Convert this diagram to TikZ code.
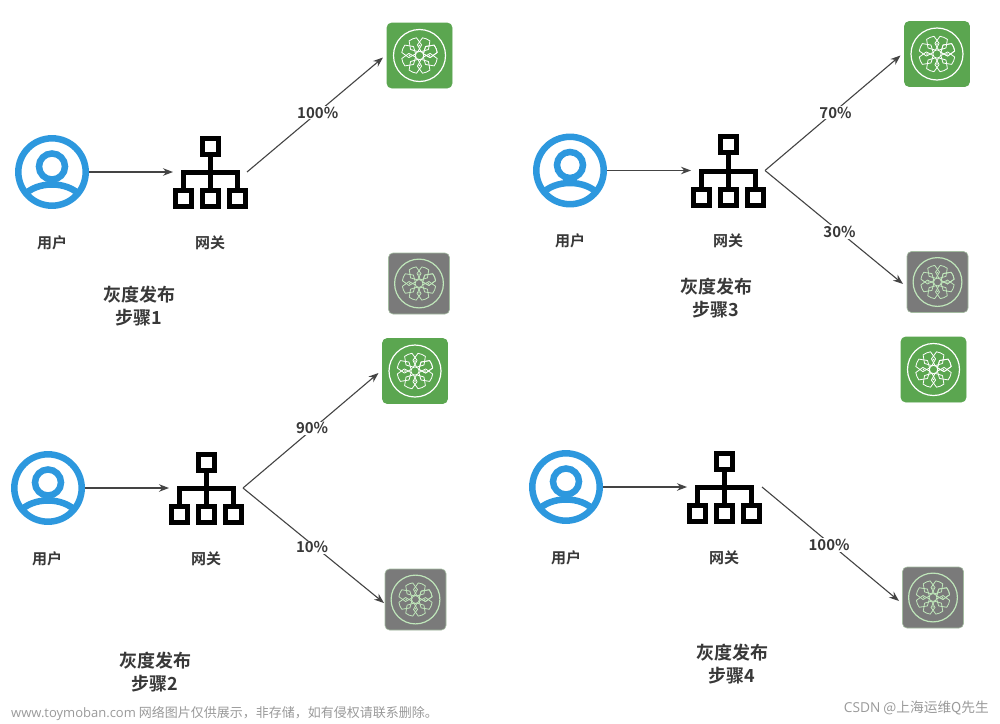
\documentclass[tikz,border=0pt]{standalone}
\usepackage{fontspec}
\setmainfont{Noto Sans CJK SC}[BoldFont={Noto Sans CJK SC Bold}]
\newfontfamily\latinfont{Open Sans}
\usetikzlibrary{arrows.meta}
\definecolor{userblue}{HTML}{2D98DE}
\definecolor{appgreen}{HTML}{5BA650}
\definecolor{appgray}{HTML}{7A7A7A}
\definecolor{graylineC}{HTML}{BFE6BA}
\definecolor{linkC}{HTML}{444444}
\definecolor{txtC}{HTML}{383838}
\definecolor{markC}{HTML}{9A9A9A}
\tikzset{
  link/.style={draw=linkC,line width=1.1pt,-{Stealth[length=10pt,width=7.5pt]}},
  pct/.style={fill=white,inner sep=1pt,text=txtC,font=\bfseries\fontsize{15}{15}\selectfont},
  caplabel/.style={text=txtC,font=\bfseries\fontsize{15}{15}\selectfont},
  heading/.style={text=txtC,align=center,font=\bfseries\fontsize{18}{23}\selectfont},
  marktext/.style={text=markC,font=\fontsize{13}{13}\selectfont,inner sep=0pt},
  holder/.style={inner sep=0pt,outer sep=0pt},
  gbox/.style={draw=black,line width=5pt,fill=white},
  greenapp/.style={fill=appgreen,draw=appgreen},
  grayapp/.style={fill=appgray,draw=graylineC!60!appgray},
}
% user icon
\newcommand{\usericon}[3]{%
  \node[holder,circle,minimum size=74pt] (#1) at (#2,#3) {};
  \begin{scope}[shift={(#2,#3)}]
    \draw[userblue,line width=6.5pt] (0,0) circle (33.7);
    \draw[userblue,line width=6.5pt] (0,-5.5) circle (13);
    \begin{scope}
      \clip (0,0) circle (33.7);
      \draw[userblue,line width=6.5pt] (-30,25) .. controls (-22,16) and (-11,12.5) .. (0,12.5) .. controls (11,12.5) and (22,16) .. (30,25);
    \end{scope}
  \end{scope}}
% gateway icon
\newcommand{\gateicon}[3]{%
  \node[holder,minimum width=74pt,minimum height=74pt] (#1) at (#2,#3) {};
  \begin{scope}[shift={(#2,#3)}]
    \draw[black,line width=5pt] (0,-26) -- (0,27) (-26.5,27) -- (-26.5,.5) -- (27,.5) -- (27,27);
    \draw[gbox] (-8,-34) rectangle (8,-18);
    \draw[gbox] (-34.5,18.5) rectangle (-18.5,34.5);
    \draw[gbox] (-7.5,18.5) rectangle (8.5,34.5);
    \draw[gbox] (19,18.5) rectangle (35,34.5);
  \end{scope}}
% application box
\newcommand{\appbox}[6]{% name,x,y,size,box style,line colour
  \node[holder,minimum size=#4 pt,#5,line width=.6pt,rounded corners=4.5pt] (#1) at (#2,#3) {};
  \begin{scope}[shift={(#2,#3)},scale=#4/65,#6,line width=.8pt,line join=round]
    \draw[line width=1.2pt] (0,0) circle (26);
    \draw (0,0) circle (4.2);
    \foreach \a in {22.5,67.5,...,382.5}{
      \draw[rotate=\a] (4.2,0) -- (9,-6) -- (17.5,-4) -- (18,0) -- (17.5,4) -- (9,6) -- cycle;
    }
    \foreach \a in {0,90,180,270}{
      \fill[rotate=\a] (10,0) circle (.9);
    }
  \end{scope}}
\begin{document}
\begin{tikzpicture}[x=1pt,y=-1pt]
\useasboundingbox[fill=white] (0,0) rectangle (1000,723);
% group 1
\usericon{ua}{52}{172}
\gateicon{ga}{210}{172}
\appbox{na}{419.5}{55.5}{65}{greenapp}{white}
\appbox{oa}{419}{283.5}{61}{grayapp}{graylineC}
\node[caplabel] (ula) at (52,243) {用户};
\node[caplabel] (gla) at (210,243) {网关};
\node[heading] (ta) at (139,306) {灰度发布\\步骤1};
\draw[link] (ua.east) -- (ga.west);
\draw[link] (ga.east) -- node[pct,pos=.52] {100\%} ([shift={(-4,2)}]na.west);
% group 2
\usericon{ub}{48}{488}
\gateicon{gb}{206}{488}
\appbox{nb}{415}{371}{65}{greenapp}{white}
\appbox{ob}{415.5}{599.5}{61}{grayapp}{graylineC}
\node[caplabel] (ulb) at (47,559) {用户};
\node[caplabel] (glb) at (206,559) {网关};
\node[heading] (tb) at (155,672) {灰度发布\\步骤2};
\draw[link] (ub.east) -- (gb.west);
\draw[link] (gb.east) -- node[pct,pos=.51,yshift=1pt] {90\%} ([shift={(-4,2)}]nb.west);
\draw[link] (gb.east) -- node[pct,pos=.49,yshift=-3pt] {10\%} ([shift={(-1,3.5)}]ob.west);
% group 3
\usericon{uc}{570}{170.5}
\gateicon{gc}{728}{170.5}
\appbox{nc}{937}{54}{65}{greenapp}{white}
\appbox{oc}{937.5}{282}{61}{grayapp}{graylineC}
\node[caplabel] (ulc) at (570,241) {用户};
\node[caplabel] (glc) at (728,241) {网关};
\node[heading] (tc) at (716,298) {灰度发布\\步骤3};
\draw[link] (uc.east) -- (gc.west);
\draw[link] (gc.east) -- node[pct,pos=.52,yshift=-2pt] {70\%} ([shift={(-4,1.5)}]nc.west);
\draw[link] (gc.east) -- node[pct,pos=.54] {30\%} ([shift={(-4,2)}]oc.west);
% group 4
\usericon{ud}{566}{487}
\gateicon{gd}{724}{487}
\appbox{nd}{933.5}{369.5}{65}{greenapp}{white}
\appbox{od}{933}{597.5}{61}{grayapp}{graylineC}
\node[caplabel] (uld) at (566,558) {用户};
\node[caplabel] (gld) at (724,558) {网关};
\node[heading] (td) at (732,664) {灰度发布\\步骤4};
\draw[link] (ud.east) -- (gd.west);
\draw[link] ([xshift=1pt]gd.east) -- node[pct,pos=.49,yshift=-2pt] {100\%} ([shift={(-3.5,3.5)}]od.west);
% watermarks
\node[marktext,anchor=west] (wa) at (11,714) {{\latinfont www.toymoban.com} 网络图片仅供展示，非存储，如有侵权请联系删除。};
\node[marktext,anchor=east,font=\fontsize{13.7}{14}\selectfont] (wb) at (989,708) {{\latinfont CSDN} @上海运维Q先生};
\end{tikzpicture}
\end{document}
